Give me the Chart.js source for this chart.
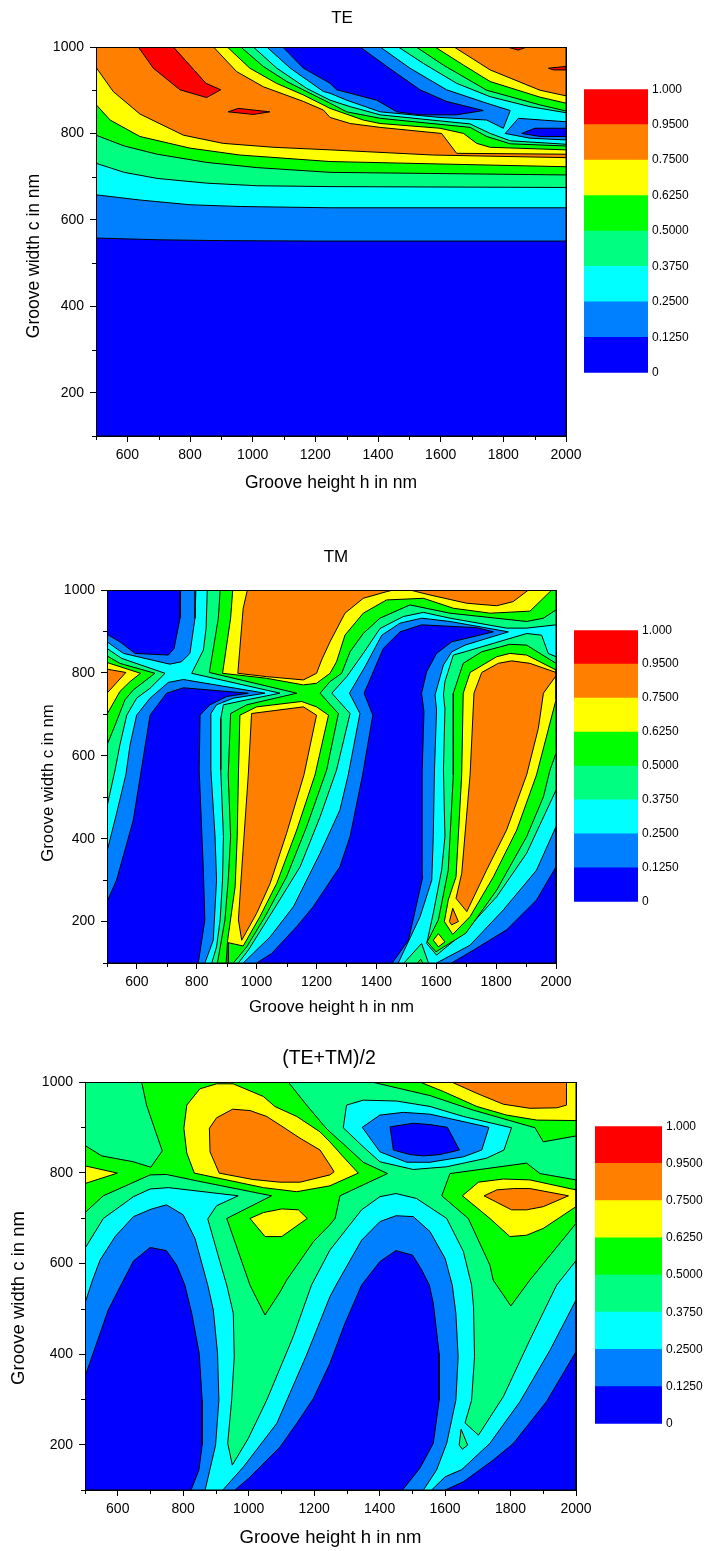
<!DOCTYPE html>
<html>
<head>
<meta charset="utf-8">
<title>Groove contour maps</title>
<script src="https://cdn.jsdelivr.net/npm/chart.js@4"></script>
<style>
    html, body { margin: 0; padding: 0; background: #fff; overflow: hidden; }
    canvas { position: absolute; }
</style>
</head>
<body>
<canvas id="teChart"></canvas>
<canvas id="teBar"></canvas>
<canvas id="tmChart"></canvas>
<canvas id="tmBar"></canvas>
<canvas id="avgChart"></canvas>
<canvas id="avgBar"></canvas>
<script>
// colour band values, bottom to top
const bandColors = ['#0000ff', '#0080ff', '#00ffff', '#00ff80', '#00ff00', '#ffff00', '#ff8000', '#ff0000'];
const bandLabels = ['0', '0.1250', '0.2500', '0.3750', '0.5000', '0.6250', '0.7500', '0.9500', '1.000'];
const bandHeights = [1, 1, 1, 1, 1, 1, 1, 1];

const xMinor = [500, 700, 900, 1100, 1300, 1500, 1700, 1900];
const yMinor = [100, 300, 500, 700, 900];
const fullRange = [[500, 100], [2000, 100], [2000, 1000], [500, 1000]];

// TE contours, [h, c]
const teL1 = [[500,558],[700,554],[900,552],[1200,551],[2000,551],[2000,793],[1917,793],[1859,800],[1901,812],[2000,812],[2000,1000],[1343,1000],[1428,955],[1534,901],[1619,874],[1736,853],[1651,843],[1534,843],[1460,850],[1396,877],[1268,901],[1247,916],[1162,951],[1096,1000],[500,1000]];
const teL2 = [[500,658],[640,646],[800,635],[960,631],[1250,628],[2000,628],[2000,785],[1885,789],[1806,800],[1848,835],[2000,827],[2000,1000],[1407,1000],[1502,951],[1619,901],[1747,870],[1822,853],[1800,812],[1747,831],[1598,837],[1407,850],[1300,877],[1247,893],[1226,897],[1120,951],[1045,1000],[500,1000]];
const teL3 = [[500,731],[590,710],[695,696],[853,685],[1013,679],[1247,677],[2000,675],[2000,775],[1822,783],[1758,800],[1694,822],[1598,829],[1407,843],[1311,862],[1247,877],[1173,904],[1077,951],[1002,1000],[500,1000]];
const teL3b = [[1465,1000],[1545,962],[1651,916],[1758,885],[1885,862],[2000,848],[2000,1000]];
const teL4 = [[500,796],[590,771],[695,752],[853,733],[1013,721],[1247,710],[2000,704],[2000,771],[1822,776],[1747,793],[1694,814],[1598,821],[1407,835],[1300,850],[1247,870],[1183,893],[1109,920],[1034,955],[962,1000],[500,1000]];
const teL4b = [[1522,1000],[1609,958],[1747,900],[1917,866],[2000,852],[2000,1000]];
const teL5 = [[500,867],[545,831],[640,793],[800,766],[960,750],[1247,735],[1620,729],[2000,723],[2000,762],[1758,768],[1715,777],[1673,800],[1598,812],[1407,823],[1353,831],[1247,858],[1162,889],[1076,916],[991,951],[919,1000],[500,1000]];
const teL5b = [[1582,1000],[1673,958],[1758,920],[1917,884],[2000,870],[2000,1000]];
const teL6 = [[500,953],[555,897],[640,845],[779,796],[906,777],[1066,768],[1247,762],[1577,750],[2000,744],[2000,752],[1651,754],[1603,800],[1407,814],[1311,823],[1247,837],[1226,854],[1162,874],[1034,908],[949,943],[875,1000],[500,1000]];
const teL6b = [[1643,1000],[1758,947],[1917,900],[2000,887],[2000,1000]];
const teRed1 = [[635,1000],[683,951],[768,901],[853,883],[898,901],[851,916],[747,1000]];
const teRed2 = [[922,850],[954,858],[1055,850],[1002,844]];
const teRed3 = [[1811,1000],[1848,993],[1875,1000]];
const teRed4 = [[1944,951],[2000,955],[2000,947],[1960,947]];

// TM contours
const tmCyanA = [[835,1000],[831,907],[822,855],[783,799],[1078,751],[967,735],[889,723],[880,690],[880,566],[889,405],[886,300],[878,204],[866,139],[850,100],[500,100],[500,477],[527,566],[543,626],[566,698],[599,739],[644,763],[694,799],[549,835],[500,859],[500,1000]];
const tmCyanB = [[2000,916],[1902,908],[1835,908],[1646,932],[1557,946],[1490,936],[1412,907],[1356,847],[1301,791],[1251,751],[1312,702],[1267,566],[1212,453],[1145,332],[1056,228],[972,131],[939,100],[1492,100],[1551,147],[1574,100],[2000,100],[2000,517],[1902,365],[1802,260],[1690,172],[1601,119],[1568,147],[1590,220],[1618,324],[1629,405],[1624,566],[1629,714],[1624,747],[1629,779],[1657,843],[1696,851],[1902,895],[1952,891],[1974,847],[2000,839]];
const tmSkyTop = [[797,1000],[794,932],[777,847],[749,827],[710,821],[555,847],[500,875],[500,1000]];
const tmSkyLeft = [[827,100],[855,155],[866,300],[861,405],[847,566],[847,702],[866,723],[922,739],[1028,751],[755,784],[705,777],[644,739],[599,698],[577,626],[563,554],[532,461],[500,369],[500,100]];
const tmSkyMid = [[1841,899],[1646,924],[1551,932],[1479,920],[1418,891],[1362,815],[1310,751],[1345,702],[1306,554],[1278,469],[1212,365],[1123,236],[1045,163],[955,100],[1473,100],[1546,212],[1585,300],[1590,405],[1594,566],[1601,710],[1596,747],[1624,819],[1652,851],[1696,867]];
const tmSkyRight = [[1601,100],[1713,143],[1824,228],[1935,324],[2000,429],[2000,100]];
const tmBlueTop = [[746,1000],[744,932],[724,859],[705,843],[594,847],[543,875],[500,893],[500,1000]];
const tmBlueLeft = [[805,100],[827,204],[822,324],[808,566],[811,698],[844,723],[900,743],[972,751],[755,764],[699,751],[644,698],[612,554],[588,445],[532,300],[500,248],[500,100]];
const tmBlueMid = [[1791,899],[1735,909],[1551,916],[1479,899],[1423,859],[1359,751],[1388,698],[1354,554],[1312,405],[1278,332],[1189,236],[1134,188],[1050,123],[1000,100],[1453,100],[1507,155],[1555,308],[1553,566],[1559,706],[1551,751],[1568,803],[1601,847],[1652,875]];
const tmBlueRight = [[1651,100],[1724,131],[1835,180],[1935,252],[2000,332],[2000,100]];
const tmGreenLeft = [[500,841],[543,823],[660,799],[588,759],[560,735],[527,674],[500,626]];
const tmGreenMid = [[878,1000],[872,932],[842,801],[1134,751],[967,723],[913,702],[905,554],[913,405],[905,300],[894,204],[869,100],[922,100],[967,139],[1028,212],[1100,308],[1167,429],[1234,566],[1273,702],[1245,724],[1212,751],[1245,779],[1284,799],[1312,851],[1356,895],[1412,932],[1512,964],[1646,944],[1902,924],[1958,932],[2000,952],[2000,1000]];
const tmGreenRight = [[1902,867],[1846,869],[1752,851],[1690,823],[1657,751],[1657,554],[1646,405],[1640,324],[1607,204],[1570,151],[1599,127],[1699,172],[1802,276],[1902,405],[1958,501],[1980,566],[2000,606],[2000,823]];
const tmGreenDot = [[1537,100],[1548,109],[1555,100]];
const tmYellowLeft = [[500,825],[612,799],[577,779],[543,755],[500,700]];
const tmYellowTop = [[920,1000],[913,932],[886,799],[1033,787],[1156,771],[1200,775],[1245,799],[1267,827],[1295,891],[1356,944],[1434,976],[1557,980],[1657,956],[1780,944],[1913,949],[1986,1000]];
const tmYellowMid = [[939,554],[944,698],[1000,718],[1150,731],[1200,718],[1240,698],[1195,554],[1134,421],[1067,292],[1011,212],[955,141],[905,149],[905,100],[898,100],[903,155],[928,284],[935,405]];
const tmYellowRight = [[1690,751],[1713,801],[1802,839],[1846,847],[1902,843],[2000,807],[2000,735],[1935,554],[1869,421],[1791,308],[1713,212],[1655,169],[1627,200],[1640,252],[1666,308],[1685,554]];
const tmYellowDot = [[1590,155],[1607,171],[1629,151],[1607,139]];
const tmOrangeLeft = [[500,809],[563,801],[500,751]];
const tmOrangeTop = [[969,1000],[955,956],[937,799],[1033,791],[1156,783],[1200,799],[1217,831],[1245,875],[1295,944],[1356,980],[1434,996],[1457,1000]];
const tmOrangeTop2 = [[1512,1000],[1579,988],[1702,968],[1802,962],[1857,972],[1908,1000]];
const tmOrangeMid = [[972,554],[983,702],[1156,718],[1200,698],[1158,554],[1100,413],[1045,292],[1000,220],[950,155],[939,204],[950,324]];
const tmOrangeRight = [[1726,751],[1752,801],[1807,823],[1852,829],[1913,823],[2000,801],[2000,793],[1958,751],[1941,666],[1902,554],[1835,421],[1768,324],[1702,224],[1666,256],[1685,316],[1713,554]];
const tmOrangeDot = [[1644,200],[1655,232],[1674,200],[1651,192]];

// (TE+TM)/2 contours
const avgCyan = [[500,633],[556,699],[648,747],[699,764],[755,767],[968,749],[902,727],[875,698],[912,604],[933,552],[953,490],[956,394],[948,298],[936,203],[950,155],[999,214],[1055,298],[1136,438],[1192,552],[1248,629],[1345,718],[1401,747],[1450,754],[1513,743],[1605,699],[1656,626],[1681,552],[1687,504],[1690,394],[1681,298],[1661,248],[1702,221],[1778,306],[1859,431],[1941,552],[2000,606],[2000,100],[500,100]];
const avgCyanTop = [[1299,949],[1350,960],[1452,958],[1554,946],[1656,924],[1803,899],[1780,850],[1727,832],[1605,813],[1503,807],[1401,824],[1350,857],[1289,899]];
const avgSkyTop = [[1347,900],[1401,927],[1473,933],[1554,929],[1734,900],[1712,850],[1656,835],[1554,823],[1483,823],[1401,846]];
const avgBlueTop = [[1432,901],[1503,909],[1554,906],[1607,900],[1644,850],[1585,840],[1534,837],[1493,840],[1442,850]];
const avgSkyLeft = [[500,512],[523,563],[546,607],[592,659],[648,703],[704,720],[749,729],[800,707],[836,655],[875,552],[892,497],[905,401],[909,298],[899,199],[867,100],[500,100]];
const avgBlueLeft = [[500,350],[571,497],[610,552],[648,605],[699,635],[749,628],[780,596],[805,552],[826,490],[849,401],[858,298],[858,199],[848,144],[824,100],[500,100]];
const avgSkyMid = [[921,100],[984,151],[1035,199],[1086,247],[1177,398],[1248,526],[1267,552],[1345,651],[1401,692],[1450,705],[1503,703],[1554,670],[1600,611],[1622,552],[1633,490],[1640,394],[1633,298],[1605,203],[1574,144],[1534,100]];
const avgSkyRight = [[1559,100],[1600,129],[1651,145],[1737,203],[1829,295],[1921,409],[2000,519],[2000,100]];
const avgBlueMid = [[958,100],[999,125],[1035,151],[1096,195],[1147,247],[1198,302],[1248,379],[1294,467],[1345,552],[1401,604],[1450,628],[1501,618],[1529,585],[1552,552],[1564,512],[1582,401],[1582,298],[1564,203],[1523,148],[1470,100]];
const avgBlueRight = [[1600,100],[1656,118],[1747,166],[1809,203],[1910,295],[2000,405],[2000,100]];
const avgSpringDot = [[1649,234],[1669,199],[1653,190],[1643,199]];
const avgGreen = [[673,1000],[688,949],[736,848],[701,812],[648,824],[551,837],[500,860],[500,712],[556,749],[699,795],[749,796],[841,782],[1070,749],[933,699],[1004,552],[1024,523],[1050,486],[1096,537],[1116,563],[1198,648],[1248,685],[1264,699],[1279,749],[1424,798],[1350,823],[1299,857],[1248,890],[1233,901],[1177,949],[1121,1000]];
const avgGreenTop = [[1376,1000],[1554,970],[1686,938],[1875,899],[1900,868],[2000,881],[2000,1000]];
const avgGreenRight = [[1615,798],[1849,821],[1890,798],[2000,784],[2000,688],[1921,618],[1859,563],[1801,506],[1747,563],[1737,596],[1671,699],[1590,749]];
const avgYellowLeft = [[500,815],[599,799],[500,776]];
const avgYellowTop = [[834,799],[811,843],[802,898],[811,949],[851,985],[902,996],[953,996],[1045,968],[1080,946],[1147,924],[1218,890],[1248,868],[1289,835],[1335,799],[1248,771],[1147,758],[1045,767]];
const avgYellowMid = [[1004,699],[1045,712],[1101,720],[1152,718],[1179,699],[1101,659],[1050,659]];
const avgYellowRight = [[1653,749],[1702,779],[1778,786],[1859,784],[2000,762],[2000,725],[1900,677],[1849,662],[1798,659],[1737,699]];
const avgYellowCorner = [[1523,1000],[1595,979],[1697,946],[1788,927],[1880,916],[2000,915],[2000,1000]];
const avgOrangeTop = [[910,799],[882,846],[880,898],[902,921],[951,940],[1004,937],[1055,924],[1096,905],[1157,876],[1218,850],[1248,817],[1261,802],[1248,795],[1157,779],[1096,779],[1012,785]];
const avgOrangeRight = [[1719,749],[1758,762],[1809,765],[1859,765],[1977,749],[1900,725],[1849,718],[1803,718]];
const avgOrangeCorner = [[1620,1000],[1697,975],[1778,951],[1859,942],[1941,943],[1971,949],[1971,1000]];

// paint order: [band index, polygon]
const teLayers = [[0,fullRange],[1,teL1],[2,teL2],[3,teL3],[3,teL3b],[4,teL4],[4,teL4b],[5,teL5],[5,teL5b],[6,teL6],[6,teL6b],[7,teRed1],[7,teRed2],[7,teRed3],[7,teRed4]];
const tmLayers = [[3,fullRange],[2,tmCyanA],[2,tmCyanB],[1,tmSkyTop],[1,tmSkyLeft],[1,tmSkyMid],[1,tmSkyRight],[0,tmBlueTop],[0,tmBlueLeft],[0,tmBlueMid],[0,tmBlueRight],[4,tmGreenLeft],[4,tmGreenMid],[4,tmGreenRight],[4,tmGreenDot],[5,tmYellowLeft],[5,tmYellowTop],[5,tmYellowMid],[5,tmYellowRight],[5,tmYellowDot],[6,tmOrangeLeft],[6,tmOrangeTop],[6,tmOrangeTop2],[6,tmOrangeMid],[6,tmOrangeRight],[6,tmOrangeDot]];
const avgLayers = [[3,fullRange],[2,avgCyan],[2,avgCyanTop],[1,avgSkyTop],[1,avgSkyLeft],[1,avgSkyMid],[1,avgSkyRight],[0,avgBlueTop],[0,avgBlueLeft],[0,avgBlueMid],[0,avgBlueRight],[3,avgSpringDot],[4,avgGreen],[4,avgGreenTop],[4,avgGreenRight],[5,avgYellowLeft],[5,avgYellowTop],[5,avgYellowMid],[5,avgYellowRight],[5,avgYellowCorner],[6,avgOrangeTop],[6,avgOrangeRight],[6,avgOrangeCorner]];

const fontFamily = '"Liberation Sans", Arial, sans-serif';

// frame, short minor ticks and the y title, which sits off centre in the original
const framePlugin = {
    id: 'frame',
    afterDatasetsDraw(chart, args, opts) {
        const { ctx, chartArea: a, scales: { x, y } } = chart;
        ctx.save();
        ctx.strokeStyle = '#000';
        ctx.lineWidth = 1;
        ctx.strokeRect(a.left + 0.5, a.top + 0.5, a.right - a.left, a.bottom - a.top);
        ctx.beginPath();
        xMinor.forEach(function(v) {
            const px = Math.round(x.getPixelForValue(v)) + 0.5;
            ctx.moveTo(px, a.bottom);
            ctx.lineTo(px, a.bottom + 4);
        });
        yMinor.forEach(function(v) {
            const py = Math.round(y.getPixelForValue(v)) + 0.5;
            ctx.moveTo(a.left, py);
            ctx.lineTo(a.left - 4, py);
        });
        ctx.stroke();

        ctx.translate(opts.titleLeft, opts.titleMiddle);
        ctx.rotate(-Math.PI / 2);
        ctx.fillStyle = '#000';
        ctx.textAlign = 'center';
        ctx.textBaseline = 'middle';
        ctx.font = opts.titleSize + 'px ' + fontFamily;
        ctx.fillText('Groove width c in nm', 0, 0);
        ctx.restore();
    }
};

function plainTick(v) {
    return String(v);
}

function makeContour(id, title, layers, s) {
    const canvas = document.getElementById(id);
    canvas.width = s.titleX * 2;
    canvas.height = s.bottom + s.below - s.top;
    canvas.style.left = '0px';
    canvas.style.top = s.top + 'px';

    const datasets = layers.map(function(layer) {
        const pts = layer[1].concat([layer[1][0]]);
        return {
            data: pts.map(function(p) { return { x: p[0], y: p[1] }; }),
            showLine: true,
            fill: 'shape',
            backgroundColor: bandColors[layer[0]],
            borderColor: '#000',
            borderWidth: 1,
            pointRadius: 0,
            tension: 0
        };
    }).reverse(); // first dataset is drawn on top

    return new Chart(canvas, {
        type: 'scatter',
        data: { datasets: datasets },
        plugins: [framePlugin],
        options: {
            responsive: false,
            animation: false,
            events: [],
            layout: { padding: 0 },
            plugins: {
                legend: { display: false },
                tooltip: { enabled: false },
                frame: { titleLeft: s.yTitleX, titleMiddle: s.yTitleY - s.top, titleSize: s.axisSize },
                title: {
                    display: true,
                    text: title,
                    color: '#000',
                    font: { family: fontFamily, size: s.titleSize, weight: 'normal' },
                    padding: { top: s.titleTop, bottom: s.plotTop - s.top - s.titleTop - s.titleSize * 1.2 }
                }
            },
            scales: {
                x: {
                    type: 'linear',
                    min: 500,
                    max: 2000,
                    afterFit: function(scale) { scale.height = s.below; },
                    border: { color: '#000' },
                    grid: { drawOnChartArea: false, color: '#000', tickLength: 6 },
                    ticks: {
                        stepSize: 200,
                        includeBounds: false,
                        maxRotation: 0,
                        color: '#000',
                        padding: s.tickPad,
                        font: { family: fontFamily, size: s.tickSize },
                        callback: plainTick
                    },
                    title: {
                        display: true,
                        text: 'Groove height h in nm',
                        color: '#000',
                        padding: 0,
                        font: { family: fontFamily, size: s.axisSize }
                    }
                },
                y: {
                    type: 'linear',
                    min: 100,
                    max: 1000,
                    afterFit: function(scale) { scale.width = s.plotLeft; },
                    border: { color: '#000' },
                    grid: { drawOnChartArea: false, color: '#000', tickLength: 6 },
                    ticks: {
                        stepSize: 200,
                        includeBounds: false,
                        color: '#000',
                        padding: 6,
                        font: { family: fontFamily, size: s.tickSize },
                        callback: plainTick
                    }
                },
                // empty axis, only keeps the plot left of the centred title
                rightGap: {
                    type: 'linear',
                    position: 'right',
                    afterFit: function(scale) { scale.width = canvas.width - s.plotRight; },
                    border: { display: false },
                    grid: { display: false },
                    ticks: { display: false }
                }
            }
        }
    });
}

function makeBar(id, b) {
    const canvas = document.getElementById(id);
    canvas.width = 711 - b.left;
    canvas.height = b.bottom - b.top + 23;
    canvas.style.left = b.left + 'px';
    canvas.style.top = (b.top - 11) + 'px';

    return new Chart(canvas, {
        type: 'bar',
        data: {
            labels: [''],
            datasets: bandHeights.map(function(h, i) {
                return {
                    data: [h],
                    backgroundColor: bandColors[i],
                    barPercentage: 1,
                    categoryPercentage: 1,
                    stack: 'band'
                };
            })
        },
        options: {
            responsive: false,
            animation: false,
            events: [],
            layout: { padding: { top: 9, bottom: 8, right: 0 } },
            plugins: { legend: { display: false }, tooltip: { enabled: false } },
            scales: {
                x: { stacked: true, display: false },
                y: {
                    stacked: true,
                    position: 'right',
                    min: 0,
                    max: 8,
                    afterFit: function(scale) { scale.width = canvas.width - (b.right - b.left); },
                    border: { display: false },
                    grid: { display: false, drawTicks: false },
                    ticks: {
                        stepSize: 1,
                        color: '#000',
                        padding: 4,
                        font: { family: fontFamily, size: 12 },
                        callback: function(v) { return bandLabels[v]; }
                    }
                }
            }
        }
    });
}

makeContour('teChart', 'TE', teLayers, {
    top: 0, plotTop: 47, bottom: 436, below: 58, plotLeft: 96, plotRight: 566,
    titleX: 342, titleTop: 8, titleSize: 17, axisSize: 17.5, tickSize: 14, tickPad: 5,
    yTitleX: 34, yTitleY: 256
});
makeContour('tmChart', 'TM', tmLayers, {
    top: 540, plotTop: 590, bottom: 963, below: 54, plotLeft: 107, plotRight: 556,
    titleX: 336, titleTop: 7, titleSize: 17, axisSize: 16.8, tickSize: 14, tickPad: 5,
    yTitleX: 48, yTitleY: 783
});
makeContour('avgChart', '(TE+TM)/2', avgLayers, {
    top: 1040, plotTop: 1082, bottom: 1490, below: 59, plotLeft: 85, plotRight: 576,
    titleX: 329, titleTop: 7, titleSize: 19.5, axisSize: 18.5, tickSize: 14, tickPad: 5,
    yTitleX: 19, yTitleY: 1298
});

makeBar('teBar', { left: 584, right: 648, top: 89, bottom: 372 });
makeBar('tmBar', { left: 574, right: 638, top: 630, bottom: 901 });
makeBar('avgBar', { left: 595, right: 662, top: 1126, bottom: 1423 });
</script>
</body>
</html>
